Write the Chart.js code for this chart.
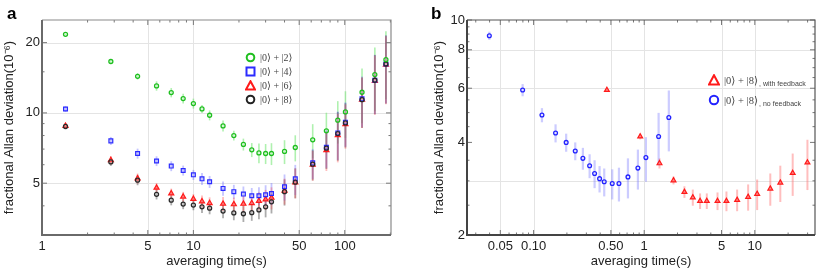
<!DOCTYPE html>
<html>
<head>
<meta charset="utf-8">
<script src="https://cdn.jsdelivr.net/npm/chart.js@4.4.1/dist/chart.umd.min.js"></script>
<style>
  body { margin: 0; background: #fff; }
  #wrap { position: relative; width: 831px; height: 273px; overflow: hidden; font-family: "Liberation Sans", Arial, sans-serif; }
  canvas { position: absolute; top: 0; }
  #cA { left: 0; }
  #cB { left: 415px; }
  .panel { position: absolute; font-weight: bold; font-size: 17px; color: #000; }
  .leg { position: absolute; display: flex; align-items: center; height: 14px; white-space: nowrap;
         font-family: "Liberation Serif", "DejaVu Serif", serif; font-size: 10px; color: #444; }
  .leg svg { margin-right: 4px; }
  .leg small { font-family: "Liberation Sans", Arial, sans-serif; font-size: 7px; position: relative; top: 3px; margin-left: 1px; }
</style>
</head>
<body>
<div id="wrap">
  <canvas id="cA" width="415" height="273"></canvas>
  <canvas id="cB" width="416" height="273"></canvas>
  <div class="panel" style="left:7px;top:4px">a</div>
  <div class="panel" style="left:431px;top:4px">b</div>

  <div class="leg" style="left:245px;top:50px"><svg width="11" height="11"><circle cx="5.5" cy="5.5" r="3.8" fill="none" stroke="#1fbf1f" stroke-width="2"/></svg>|0⟩ + |2⟩</div>
  <div class="leg" style="left:245px;top:64px"><svg width="11" height="11"><rect x="1.5" y="1.5" width="8" height="8" fill="none" stroke="#2b2bff" stroke-width="2"/></svg>|0⟩ + |4⟩</div>
  <div class="leg" style="left:245px;top:78px"><svg width="11" height="11"><polygon points="5.5,1.2 10,9.6 1,9.6" fill="none" stroke="#ff1a1a" stroke-width="2"/></svg>|0⟩ + |6⟩</div>
  <div class="leg" style="left:245px;top:92px"><svg width="11" height="11"><circle cx="5.5" cy="5.5" r="3.8" fill="none" stroke="#222" stroke-width="2"/></svg>|0⟩ + |8⟩</div>

  <div class="leg" style="left:708px;top:73px;font-size:10.5px"><svg width="12" height="12"><polygon points="6,1.2 11,10.4 1,10.4" fill="none" stroke="#ff1a1a" stroke-width="2"/></svg>|0⟩ + |8⟩<small>, with feedback</small></div>
  <div class="leg" style="left:708px;top:93px;font-size:10.5px"><svg width="12" height="12"><circle cx="6" cy="6" r="4.2" fill="none" stroke="#2222ff" stroke-width="2"/></svg>|0⟩ + |8⟩<small>, no feedback</small></div>
</div>

<script>
/* PANEL a DATA */
const tauA = [1.43, 2.85, 4.28, 5.71, 7.14, 8.56, 10.0, 11.4, 12.8, 15.7, 18.5, 21.4, 24.3,
              27.1, 30.0, 32.8, 40.0, 47.1, 61.4, 75.6, 89.9, 101, 130, 158, 187];
const dev02 = [21.7, 16.6, 14.35, 13.05, 12.22, 11.52, 10.97, 10.40, 9.77, 8.80, 8.0, 7.33, 6.95,
               6.74, 6.70, 6.70, 6.84, 7.11, 7.67, 8.38, 9.31, 10.1, 12.26, 14.6, 16.9];
const err02 = [0.21, 0.33, 0.46, 0.60, 0.56, 0.56, 0.54, 0.41, 0.48, 0.47, 0.39, 0.43, 0.48,
               0.66, 0.66, 0.72, 0.80, 0.91, 1.28, 1.64, 1.92, 2.28, 3.24, 4.44, 5.47];
const dev04 = [10.4, 7.59, 6.70, 6.22, 5.92, 5.67, 5.43, 5.22, 5.07, 4.75, 4.60, 4.49, 4.42,
               4.42, 4.46, 4.52, 4.83, 5.22, 6.11, 7.13, 8.21, 9.13, 11.5, 13.8, 16.2];
const err04 = [0.31, 0.30, 0.33, 0.30, 0.29, 0.28, 0.27, 0.31, 0.30, 0.33, 0.32, 0.35, 0.35,
               0.39, 0.44, 0.49, 0.62, 0.77, 0.90, 1.33, 1.93, 1.97, 2.82, 3.92, 5.24];
const dev06 = [8.8, 6.28, 5.24, 4.78, 4.52, 4.38, 4.28, 4.18, 4.11, 4.08, 4.06, 4.08, 4.11,
               4.20, 4.26, 4.33, 4.64, 5.04, 6.0, 6.93, 8.03, 8.95, 11.4, 13.7, 16.1];
const err06 = [0.26, 0.25, 0.26, 0.23, 0.22, 0.21, 0.21, 0.25, 0.24, 0.28, 0.28, 0.32, 0.32,
               0.37, 0.42, 0.47, 0.59, 0.74, 0.88, 1.29, 1.89, 1.93, 2.79, 3.89, 5.21];
const dev08 = [8.75, 6.17, 5.15, 4.48, 4.23, 4.07, 4.03, 3.96, 3.91, 3.80, 3.73, 3.70, 3.74,
               3.84, 3.96, 4.16, 4.60, 5.05, 6.03, 7.06, 8.16, 9.06, 11.4, 13.8, 16.2];
const err08 = [0.26, 0.24, 0.25, 0.22, 0.21, 0.20, 0.20, 0.23, 0.23, 0.26, 0.26, 0.29, 0.29,
               0.34, 0.39, 0.45, 0.59, 0.74, 0.89, 1.31, 1.92, 1.95, 2.79, 3.92, 5.24];
const xTicksA = [1, 5, 10, 50, 100];
const xLabelsA = ["1", "5", "10", "50", "100"];
const yTicksA = [5, 10, 20];
const yLabelsA = ["5", "10", "20"];

/* PANEL b DATA */
const tauFb = [0.46, 0.92, 1.375, 1.84, 2.31, 2.75, 3.2, 3.68, 4.6, 5.54, 6.92, 8.7, 10.5, 13.8, 17.0, 22.0, 29.9];
const devFb = [5.92, 4.18, 3.42, 3.01, 2.76, 2.65, 2.58, 2.58, 2.58, 2.58, 2.60, 2.66, 2.72, 2.83, 2.96, 3.18, 3.44];
const errFb = [0.04, 0.09, 0.13, 0.09, 0.12, 0.16, 0.15, 0.15, 0.17, 0.19, 0.21, 0.26, 0.31, 0.34, 0.40, 0.50, 0.64];
const tauNoFb = [0.0398, 0.0796, 0.119, 0.158, 0.197, 0.238, 0.279, 0.321, 0.356, 0.395, 0.435, 0.514,
                 0.591, 0.713, 0.877, 1.036, 1.35, 1.67];
const devNoFb = [8.89, 5.92, 4.91, 4.29, 4.0, 3.75, 3.55, 3.36, 3.17, 3.05, 2.98, 2.94, 2.94, 3.09, 3.30, 3.57, 4.18, 4.82];
const errNoFb = [0.27, 0.27, 0.26, 0.29, 0.27, 0.25, 0.29, 0.30, 0.33, 0.30, 0.31, 0.33, 0.37, 0.46, 0.49, 0.59, 0.81, 1.08];
const xTicksB = [0.05, 0.1, 0.5, 1, 5, 10];
const xLabelsB = ["0.05", "0.10", "0.50", "1", "5", "10"];
const yTicksB = [2, 4, 6, 8, 10];
const yLabelsB = ["2", "4", "6", "8", "10"];

const FONT = "'Liberation Sans', Arial, sans-serif";

function pts(xs, ys) {
    return xs.map((x, i) => ({ x: x, y: ys[i] }));
}

/* grid, error bars, frame and inward ticks */
const decor = {
    id: "decor",
    beforeDatasetsDraw(chart, args, o) {
        const { ctx, chartArea: a } = chart;
        const x = chart.scales.x, y = chart.scales.y;
        ctx.save();
        ctx.strokeStyle = "#e4e4e4";
        ctx.lineWidth = 1;
        o.gridX.forEach(v => {
            const p = Math.round(x.getPixelForValue(v)) + 0.5;
            ctx.beginPath(); ctx.moveTo(p, a.top); ctx.lineTo(p, a.bottom); ctx.stroke();
        });
        o.gridY.forEach(v => {
            const p = Math.round(y.getPixelForValue(v)) + 0.5;
            ctx.beginPath(); ctx.moveTo(a.left, p); ctx.lineTo(a.right, p); ctx.stroke();
        });
        ctx.beginPath();
        ctx.rect(a.left, a.top, a.right - a.left, a.bottom - a.top);
        ctx.clip();
        chart.data.datasets.forEach(ds => {
            ctx.strokeStyle = ds.errColor;
            ctx.lineWidth = ds.errWidth;
            ds.data.forEach((p, j) => {
                const e = ds.errs[j];
                const px = x.getPixelForValue(p.x);
                ctx.beginPath();
                ctx.moveTo(px, y.getPixelForValue(p.y + e));
                ctx.lineTo(px, y.getPixelForValue(Math.max(p.y - e, 0.01)));
                ctx.stroke();
            });
        });
        ctx.restore();
    },
    afterDatasetsDraw(chart, args, o) {
        const { ctx, chartArea: a } = chart;
        const x = chart.scales.x, y = chart.scales.y;
        ctx.save();
        ctx.strokeStyle = "#777";
        ctx.lineWidth = 1;
        const tx = (v, len) => {
            const p = x.getPixelForValue(v);
            ctx.beginPath();
            ctx.moveTo(p, a.bottom); ctx.lineTo(p, a.bottom - len);
            ctx.moveTo(p, a.top); ctx.lineTo(p, a.top + len);
            ctx.stroke();
        };
        const ty = (v, len) => {
            const p = y.getPixelForValue(v);
            ctx.beginPath();
            ctx.moveTo(a.left, p); ctx.lineTo(a.left + len, p);
            ctx.moveTo(a.right, p); ctx.lineTo(a.right - len, p);
            ctx.stroke();
        };
        o.majX.forEach(v => tx(v, 5));
        o.minX.forEach(v => tx(v, 2.5));
        o.majY.forEach(v => ty(v, 5));
        o.minY.forEach(v => ty(v, 2.5));
        // frame
        ctx.strokeStyle = o.topColor;
        ctx.lineWidth = 1.2;
        ctx.beginPath();
        ctx.moveTo(a.left, a.top); ctx.lineTo(a.right, a.top); ctx.lineTo(a.right, a.bottom);
        ctx.stroke();
        ctx.strokeStyle = o.axisColor;
        ctx.lineWidth = 2;
        ctx.beginPath();
        ctx.moveTo(a.left, a.top); ctx.lineTo(a.left, a.bottom); ctx.lineTo(a.right, a.bottom);
        ctx.stroke();
        ctx.restore();
    }
};

function axis(min, max, ticks, labels, fit, title, titlePad, horizontal) {
    return {
        type: "logarithmic",
        min: min,
        max: max,
        grid: { display: false, drawTicks: false, tickLength: 0 },
        border: { display: false },
        afterBuildTicks: s => { s.ticks = ticks.map(v => ({ value: v })); },
        afterFit: s => { if (horizontal) s.height = fit; else s.width = fit; },
        ticks: {
            autoSkip: false, maxRotation: 0, padding: horizontal ? 4 : 2,
            color: "#222", font: { family: FONT, size: 13 },
            callback: (v, i) => labels[i]
        },
        title: {
            display: true, text: title, color: "#222",
            font: { family: FONT, size: 13 }, padding: titlePad
        }
    };
}

/* PANEL a */
new Chart(document.getElementById("cA"), {
    type: "scatter",
    data: {
        datasets: [
            { data: pts(tauA, dev02), errs: err02, errColor: "rgba(110,230,110,0.55)", errWidth: 1.6,
              pointStyle: "circle", pointRadius: 2, borderWidth: 1.3, borderColor: "#1fbf1f", backgroundColor: "rgba(255,255,255,0.3)" },
            { data: pts(tauA, dev08), errs: err08, errColor: "rgba(70,70,70,0.45)", errWidth: 1.8,
              pointStyle: "circle", pointRadius: 2, borderWidth: 1.3, borderColor: "#2a2a2a", backgroundColor: "rgba(255,255,255,0.2)" },
            { data: pts(tauA, dev04), errs: err04, errColor: "rgba(90,90,255,0.35)", errWidth: 1.8,
              pointStyle: "rect", pointRadius: 2.7, borderWidth: 1.2, borderColor: "#2b2bff", backgroundColor: "rgba(190,190,255,0.5)" },
            { data: pts(tauA, dev06), errs: err06, errColor: "rgba(255,70,70,0.35)", errWidth: 1.8,
              pointStyle: "triangle", pointRadius: 2.9, borderWidth: 1.2, borderColor: "#ff1a1a", backgroundColor: "rgba(255,110,110,0.8)" }
        ]
    },
    options: {
        responsive: false,
        animation: false,
        events: [],
        layout: { padding: { top: 20, right: 24, left: 0, bottom: 0 } },
        plugins: {
            legend: { display: false },
            tooltip: { enabled: false },
            decor: {
                gridX: [5, 10, 50, 100], gridY: [5, 10, 20],
                majX: [5, 10, 50, 100], minX: [2, 3, 4, 6, 7, 8, 9, 20, 30, 40, 60, 70, 80, 90, 200],
                majY: [5, 10, 20], minY: [4, 6, 7, 8, 9, 15],
                topColor: "#8a8a8a", axisColor: "#6a6a6a"
            }
        },
        scales: {
            x: axis(1, 202, xTicksA, xLabelsA, 38, "averaging time(s)", { top: 0, bottom: 4 }, true),
            y: axis(3.0, 25, yTicksA, yLabelsA, 42, "fractional Allan deviation(10⁻⁶)", { top: 2, bottom: 0 }, false)
        }
    },
    plugins: [decor]
});

/* PANEL b */
new Chart(document.getElementById("cB"), {
    type: "scatter",
    data: {
        datasets: [
            { data: pts(tauFb, devFb), errs: errFb, errColor: "rgba(255,110,110,0.45)", errWidth: 2,
              pointStyle: "triangle", pointRadius: 2.8, borderWidth: 1.2, borderColor: "#ff1a1a", backgroundColor: "rgba(255,120,120,0.8)" },
            { data: pts(tauNoFb, devNoFb), errs: errNoFb, errColor: "rgba(120,120,255,0.38)", errWidth: 2.2,
              pointStyle: "circle", pointRadius: 1.9, borderWidth: 1.3, borderColor: "#2222ff", backgroundColor: "rgba(255,255,255,0.4)" }
        ]
    },
    options: {
        responsive: false,
        animation: false,
        events: [],
        layout: { padding: { top: 20, right: 16, left: 0, bottom: 0 } },
        plugins: {
            legend: { display: false },
            tooltip: { enabled: false },
            decor: {
                gridX: [0.05, 0.1, 0.5, 1, 5, 10], gridY: [3, 6, 8],
                majX: [0.05, 0.1, 0.5, 1, 5, 10],
                minX: [0.03, 0.04, 0.06, 0.07, 0.08, 0.09, 0.2, 0.3, 0.4, 0.6, 0.7, 0.8, 0.9, 2, 3, 4, 6, 7, 8, 9, 20, 30],
                majY: [2, 4, 6, 8, 10], minY: [2.5, 3, 3.5, 4.5, 5, 5.5, 6.5, 7, 7.5, 8.5, 9, 9.5],
                topColor: "#555", axisColor: "#444"
            }
        },
        scales: {
            x: axis(0.025, 35, xTicksB, xLabelsB, 38, "averaging time(s)", { top: 0, bottom: 4 }, true),
            y: axis(2, 10, yTicksB, yLabelsB, 52, "fractional Allan deviation(10⁻⁶)", { top: 17, bottom: 0 }, false)
        }
    },
    plugins: [decor]
});
</script>
</body>
</html>
